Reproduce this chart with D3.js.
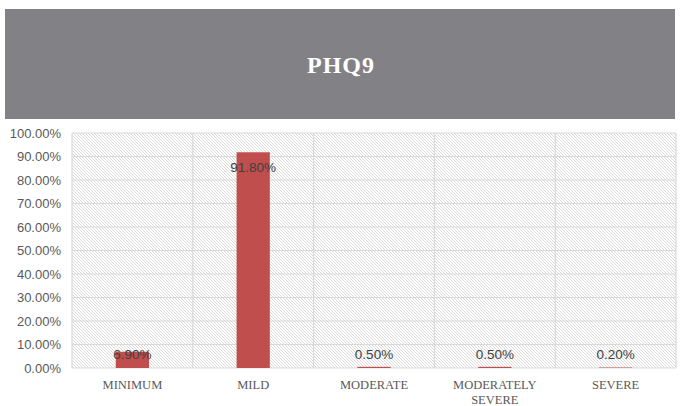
<!DOCTYPE html>
<html><head><meta charset="utf-8">
<script src="https://cdn.jsdelivr.net/npm/d3@7"></script>
<style>body{margin:0;background:#fff}svg{display:block}</style>
</head><body>
<script>
const categories = ["MINIMUM", "MILD", "MODERATE", "MODERATELY SEVERE", "SEVERE"];
const values = [6.9, 91.8, 0.5, 0.5, 0.2];
const yTicks = [0, 10, 20, 30, 40, 50, 60, 70, 80, 90, 100];
const title = "PHQ9";

(function () {
const W = 680, H = 406;
const svg = d3.select("body").append("svg").attr("width", W).attr("height", H);

const defs = svg.append("defs");
const pat = defs.append("pattern").attr("id", "hatch").attr("patternUnits", "userSpaceOnUse")
  .attr("width", 3).attr("height", 3);
pat.append("rect").attr("width", 3).attr("height", 3).attr("fill", "#ffffff");
pat.append("path").attr("d", "M-1,-1 L4,4 M-1,2 L1,4 M2,-1 L4,1")
  .attr("stroke", "#d6d6d6").attr("stroke-width", 0.9);

// title band
svg.append("rect").attr("x", 5).attr("y", 9).attr("width", 670).attr("height", 110).attr("fill", "#828286");
svg.append("text").attr("x", 341).attr("y", 73).attr("text-anchor", "middle")
  .attr("font-family", "'Liberation Serif', 'DejaVu Serif', serif").attr("font-weight", "bold")
  .attr("font-size", 24).attr("letter-spacing", 1).attr("fill", "#ffffff").text(title);

const pLeft = 72, pRight = 676, pTop = 133, pBottom = 368;
const x = d3.scaleBand().domain(categories).range([pLeft, pRight]).paddingInner(0).paddingOuter(0);
const y = d3.scaleLinear().domain([0, 100]).range([pBottom, pTop]);

svg.append("rect").attr("x", pLeft).attr("y", pTop).attr("width", pRight - pLeft).attr("height", pBottom - pTop)
  .attr("fill", "url(#hatch)");

// gridlines
svg.append("g").selectAll("line").data(yTicks).join("line")
  .attr("x1", pLeft).attr("x2", pRight).attr("y1", d => y(d)).attr("y2", d => y(d))
  .attr("stroke", "#d9d9d9").attr("stroke-width", 1.2);
const bounds = categories.map(c => x(c)).concat([pRight]);
svg.append("g").selectAll("line").data(bounds).join("line")
  .attr("x1", d => d).attr("x2", d => d).attr("y1", pTop).attr("y2", pBottom)
  .attr("stroke", "#d9d9d9").attr("stroke-width", 1.2);

// y axis
const yAxis = d3.axisLeft(y).tickValues(yTicks).tickFormat(d => d.toFixed(2) + "%").tickSize(0).tickPadding(11);
const ga = svg.append("g").attr("transform", `translate(${pLeft},0)`).call(yAxis);
ga.select(".domain").remove();
ga.selectAll("text").attr("font-family", "'Liberation Sans', Arial, sans-serif").attr("font-size", 13).attr("fill", "#595959");

// bars
const bw = x.bandwidth() * 0.275;
svg.append("g").selectAll("rect").data(values).join("rect")
  .attr("x", (d, i) => x(categories[i]) + x.bandwidth() / 2 - bw / 2)
  .attr("y", d => y(d)).attr("width", bw).attr("height", d => y(0) - y(d))
  .attr("fill", "#bf4e4d");

// data labels
svg.append("g").selectAll("text").data(values).join("text")
  .attr("x", (d, i) => x(categories[i]) + x.bandwidth() / 2)
  .attr("y", d => Math.min(y(d) + 20, pBottom - 9))
  .attr("text-anchor", "middle")
  .attr("font-family", "'Liberation Sans', Arial, sans-serif").attr("font-size", 13.5).attr("fill", "#404040")
  .text(d => d.toFixed(2) + "%");

// x labels
const xl = svg.append("g").selectAll("text").data(categories).join("text")
  .attr("x", d => x(d) + x.bandwidth() / 2).attr("y", 388.5)
  .attr("text-anchor", "middle")
  .attr("font-family", "'Liberation Serif', 'DejaVu Serif', serif").attr("font-size", 12.5).attr("fill", "#595959");
xl.each(function(d) {
  const words = d === "MODERATELY SEVERE" ? ["MODERATELY", "SEVERE"] : [d];
  const t = d3.select(this);
  words.forEach((w, k) => t.append("tspan").attr("x", x(d) + x.bandwidth() / 2).attr("dy", k ? 15 : 0).text(w));
});
})();
</script>
</body></html>
